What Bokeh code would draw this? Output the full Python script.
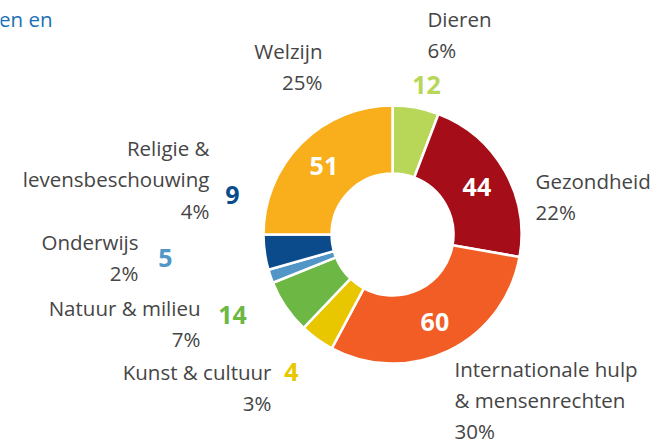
import math
from bokeh.plotting import figure
from bokeh.models import Range1d, ColumnDataSource
from bokeh.core.properties import value
from bokeh.embed import file_html
from bokeh.resources import INLINE

# ---- data ----
categories = ["Dieren", "Gezondheid", "Internationale hulp\n& mensenrechten",
              "Kunst & cultuur", "Natuur & milieu", "Onderwijs",
              "Religie &\nlevensbeschouwing", "Welzijn"]
counts = [12, 44, 60, 4, 14, 5, 9, 51]
percent_labels = ["6%", "22%", "30%", "3%", "7%", "2%", "4%", "25%"]
# slice sizes as drawn in the reference (share of the ring, %)
slice_shares = [5.8, 22.0, 30.0, 4.3, 6.8, 1.7, 4.4, 25.0]
colors = ["#b8d657", "#a50d18", "#f15d24", "#e8c600", "#6db844",
          "#5196c6", "#0b4b8b", "#f9ae1c"]
title_fragment = "en en"

# ---- layout (image pixel coordinates; y measured from top) ----
W, H = 666, 444
CX, CY = 392, 234
R_OUT, R_IN = 129, 61
LINE = 31.5
# name block anchor: (x, y of first line, align)
label_pos = [(427, 18, "left"), (535, 180, "left"), (454, 368, "left"),
             (271, 371, "right"), (200, 307, "right"), (138, 241, "right"),
             (209, 147, "right"), (322, 50, "right")]
# outside number position (None -> inside ring)
number_pos = [(426, 84), None, None, (291, 371), (232, 314), (165, 257),
              (232, 194), None]


def Y(img_y):
    return H - img_y


p = figure(width=W, height=H, output_backend="svg", toolbar_location=None,
           x_range=Range1d(0, W), y_range=Range1d(0, H),
           min_border=0, border_fill_color="white")
p.axis.visible = False
p.grid.visible = False
p.outline_line_color = None

total = sum(slice_shares)
starts, ends = [], []
cum = 0
for c in slice_shares:
    a_before = math.pi / 2 - 2 * math.pi * cum / total
    cum += c
    a_after = math.pi / 2 - 2 * math.pi * cum / total
    starts.append(a_after)
    ends.append(a_before)

src = ColumnDataSource(dict(x=[CX] * len(counts), y=[Y(CY)] * len(counts),
                            start=starts, end=ends, color=colors))
p.annular_wedge(x="x", y="y", inner_radius=R_IN, outer_radius=R_OUT,
                start_angle="start", end_angle="end", color="color",
                line_color="white", line_width=2.5, source=src)

# outer text labels
tx, ty, tt, ta = [], [], [], []
for cat, pct, (lx, ly, al) in zip(categories, percent_labels, label_pos):
    lines = cat.split("\n") + [pct]
    step = LINE if ly < 360 else 31.0
    for i, ln in enumerate(lines):
        tx.append(lx)
        ty.append(Y(ly + i * step))
        tt.append(ln)
        ta.append(al)
p.text(x=tx, y=ty, text=tt, text_align=ta, text_baseline="middle",
       text_font=value("Open Sans"), text_font_size="20.5px",
       text_line_height=1.0, text_color="#454545")

# numbers
nx, ny, nt, nc = [], [], [], []
ix, iy, it = [], [], []
for k, (c, col, npos) in enumerate(zip(counts, colors, number_pos)):
    if npos is None:
        mid = (starts[k] + ends[k]) / 2
        rm = (R_IN + R_OUT) / 2 + 2
        ix.append(CX + rm * math.cos(mid))
        iy.append(Y(CY) + rm * math.sin(mid))
        it.append(str(c))
    else:
        nx.append(npos[0])
        ny.append(Y(npos[1]))
        nt.append(str(c))
        nc.append(col)
p.text(x=nx, y=ny, text=nt, text_color=nc, text_align="center",
       text_baseline="middle", text_font=value("Open Sans"),
       text_font_size="25px", text_font_style="bold")
p.text(x=ix, y=iy, text=it, text_color="white", text_align="center",
       text_baseline="middle", text_font=value("Open Sans"),
       text_font_size="25px", text_font_style="bold")

p.text(x=[52], y=[Y(18)], text=[title_fragment], text_align="right",
       text_baseline="middle", text_font=value("Open Sans"),
       text_font_size="20.5px", text_color="#1c70b5")

open("out.html", "w").write(file_html(p, INLINE))
